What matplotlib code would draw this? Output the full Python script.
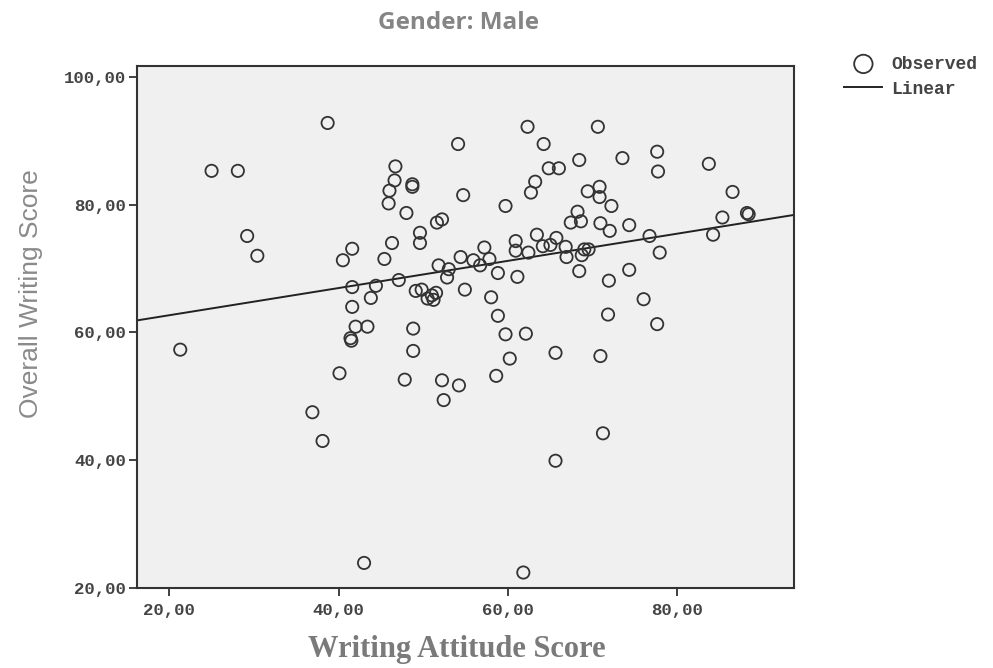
import numpy as np
import matplotlib
matplotlib.use("Agg")
import matplotlib.pyplot as plt
from matplotlib.ticker import FuncFormatter

# values
attitude = [
    38.7, 25.0, 28.1, 54.1, 46.7, 46.6, 46.0, 48.7, 48.7, 45.9, 54.7, 48.0,
    51.6, 52.2, 49.6, 49.6, 46.3, 29.2, 30.4, 41.6, 40.5, 45.4, 54.4, 51.8,
    53.0, 52.8, 41.6, 44.4, 47.1, 43.8, 49.1, 49.8, 50.5, 51.0, 51.5, 51.2,
    54.9, 41.6, 42.0, 43.4, 48.8, 21.3, 41.4, 41.5, 48.8, 40.1, 47.8, 52.2,
    54.2, 52.4, 36.9, 38.1, 43.0, 59.7, 62.1, 77.6, 60.2, 65.6, 70.9, 58.6,
    71.2, 65.6, 61.8, 62.3, 70.6, 64.2, 64.8, 66.0, 68.4, 73.5, 77.6, 77.7,
    83.7, 86.5, 88.2, 88.4, 85.3, 84.2, 63.2, 62.7, 59.7, 69.4, 70.8, 70.8,
    72.2, 68.2, 67.4, 68.6, 70.9, 72.0, 74.3, 76.7, 77.9, 63.4, 60.9, 60.9,
    62.4, 64.1, 65.0, 65.7, 66.8, 66.9, 69.0, 69.5, 68.7, 55.9, 56.7, 57.2,
    57.8, 58.8, 61.1, 58.0, 68.4, 74.3, 71.9, 76.0, 58.8, 71.8,
]
overall = [
    92.8, 85.3, 85.3, 89.5, 86.0, 83.8, 82.2, 83.2, 82.8, 80.2, 81.5, 78.7,
    77.2, 77.7, 75.6, 74.0, 74.0, 75.1, 72.0, 73.1, 71.3, 71.5, 71.8, 70.5,
    69.9, 68.6, 67.1, 67.3, 68.2, 65.4, 66.5, 66.7, 65.3, 65.8, 66.2, 65.1,
    66.7, 64.0, 60.9, 60.9, 60.6, 57.3, 59.1, 58.7, 57.1, 53.6, 52.6, 52.5,
    51.7, 49.4, 47.5, 43.0, 23.9, 59.7, 59.8, 61.3, 55.9, 56.8, 56.3, 53.2,
    44.2, 39.9, 22.4, 92.2, 92.2, 89.5, 85.7, 85.7, 87.0, 87.3, 88.3, 85.2,
    86.4, 82.0, 78.7, 78.5, 78.0, 75.3, 83.6, 81.9, 79.8, 82.1, 82.8, 81.2,
    79.8, 78.9, 77.2, 77.4, 77.1, 75.9, 76.8, 75.1, 72.5, 75.3, 74.3, 72.8,
    72.5, 73.5, 73.7, 74.8, 73.4, 71.8, 73.0, 73.0, 72.1, 71.3, 70.5, 73.3,
    71.5, 69.3, 68.7, 65.5, 69.6, 69.8, 68.1, 65.2, 62.6, 62.8,
]
# linear fit line
fit_intercept = 58.43
fit_slope = 0.213

x_ticks = [20, 40, 60, 80]
y_ticks = [20, 40, 60, 80, 100]

mono = "Liberation Mono"

fig = plt.figure(figsize=(9.93, 6.68), dpi=100)
ax = fig.add_axes([0.138, 0.12, 0.662, 0.781])
ax.set_facecolor("#f0f0f0")

pts = ax.scatter(attitude, overall, s=78, facecolors="none",
                 edgecolors="#333333", linewidths=1.3, label="Observed", zorder=3)
xl = np.array([16.2, 93.8])
line, = ax.plot(xl, fit_intercept + fit_slope * xl, color="#222222", lw=1.4,
                label="Linear", zorder=2)

ax.set_xlim(16.2, 93.8)
ax.set_ylim(20, 101.7)
ax.set_xticks(x_ticks)
ax.set_yticks(y_ticks)
fmt = FuncFormatter(lambda v, p: f"{v:.2f}".replace(".", ","))
ax.xaxis.set_major_formatter(fmt)
ax.yaxis.set_major_formatter(fmt)
ax.tick_params(direction="out", length=6, width=1.3, color="#333333",
               labelsize=12.5, labelcolor="#444444", pad=2)
ax.tick_params(axis="x", pad=5)
for lab in ax.get_xticklabels() + ax.get_yticklabels():
    lab.set_fontfamily(mono)
    lab.set_fontweight("bold")
for sp in ax.spines.values():
    sp.set_color("#333333")
    sp.set_linewidth(1.5)

fig.text(0.46, 0.027, "Writing Attitude Score", ha="center", va="center",
         fontfamily="Liberation Serif", fontsize=22, fontweight="bold",
         color="#7a7a7a")
fig.text(0.031, 0.56, "Overall Writing Score", ha="center", va="center",
         rotation=90, fontfamily="Liberation Sans", fontsize=19, color="#8a8a8a")
fig.text(0.462, 0.966, "Gender: Male", ha="center", va="center",
         fontsize=17.5, fontweight="bold", color="#858585", fontfamily="Open Sans")

fig.legend(handles=[pts, line], loc="upper left", bbox_to_anchor=(0.834, 0.941),
           frameon=False, prop={"family": mono, "size": 13, "weight": "bold"},
           labelcolor="#444444",
           handlelength=2.1, handletextpad=0.5, labelspacing=0.45, markerscale=1.5)

fig.savefig("out.png", dpi=100)
